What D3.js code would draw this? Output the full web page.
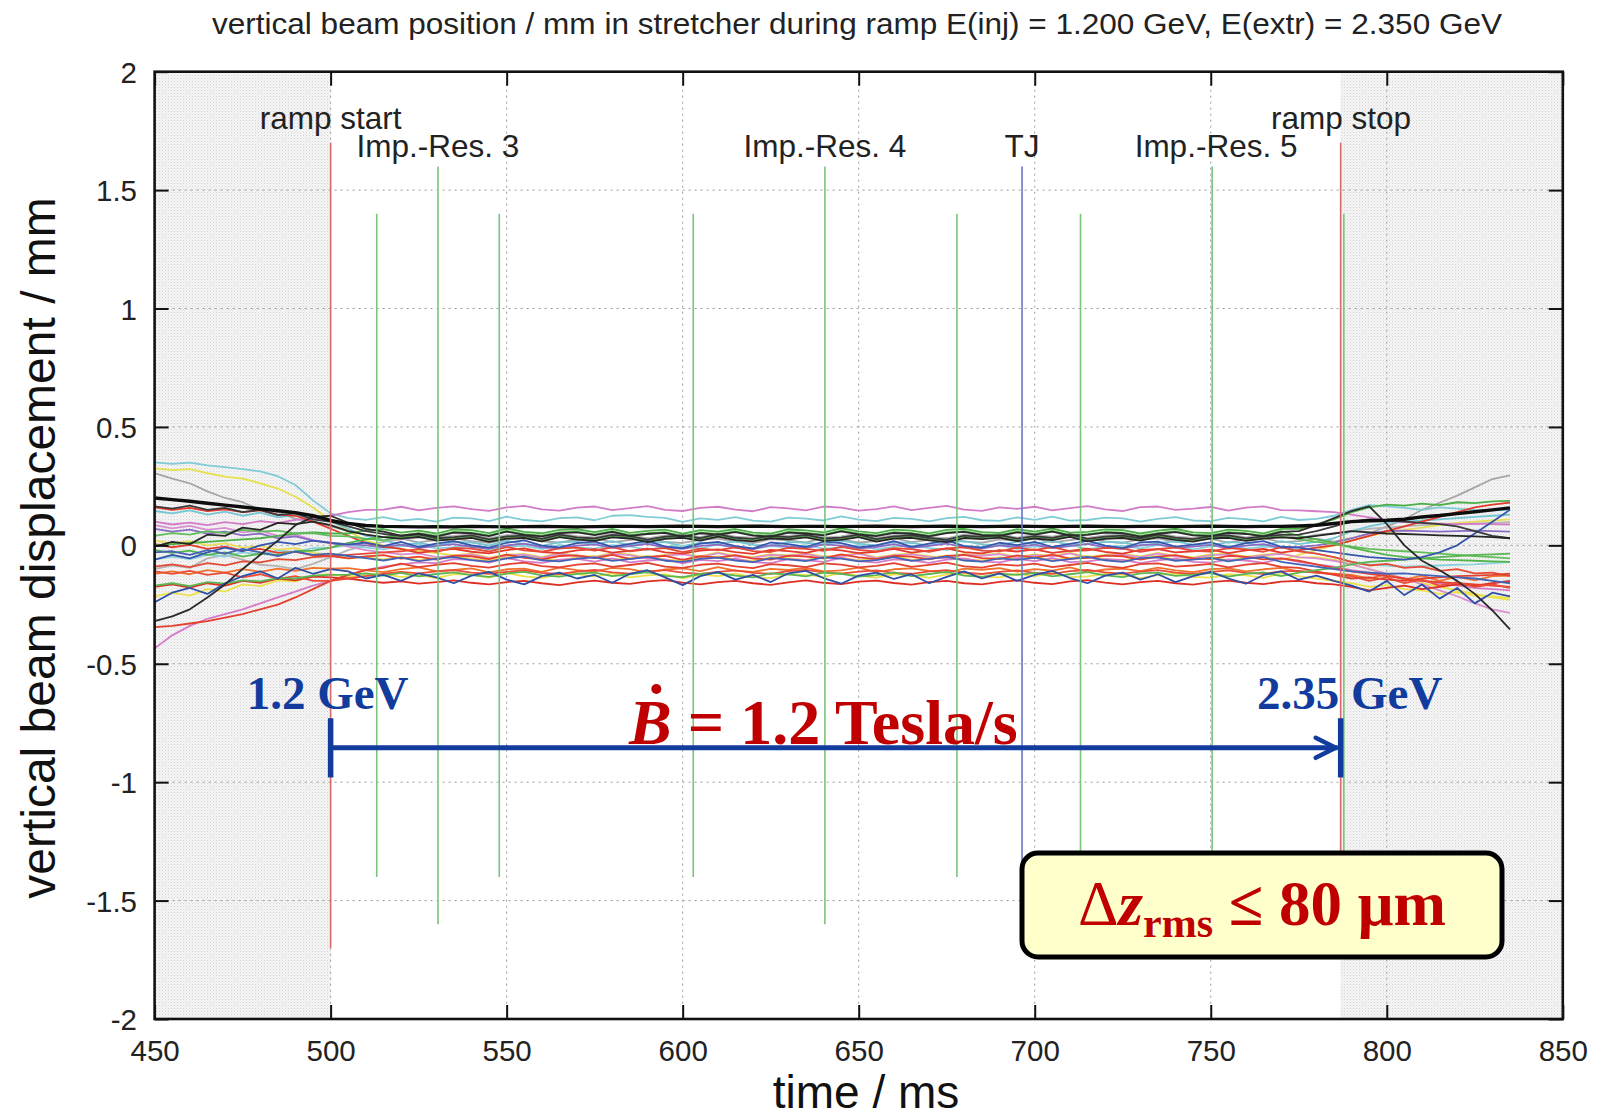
<!DOCTYPE html>
<html>
<head>
<meta charset="utf-8">
<script src="https://cdn.jsdelivr.net/npm/d3@7"></script>
<style>
  body { margin: 0; background: #fff; }
  svg { display: block; }
</style>
</head>
<body>
<svg id="chart" width="1601" height="1119"></svg>
<script>
// ---------------------------------------------------------------------------
// Sample times (ms) shared by all BPM traces
const timesMs = [450,455,460,465,470,475,480,485,490,495,500,
  505,510,515,520,525,530,535,540,545,550,555,560,565,570,575,580,585,590,595,600,
  605,610,615,620,625,630,635,640,645,650,655,660,665,670,675,680,685,690,695,700,
  705,710,715,720,725,730,735,740,745,750,755,760,765,770,775,780,785,
  790,795,800,805,810,815,820,825,830,835];

// Vertical beam displacement per monitor, in micrometres
const pinkTop = [100,88,96,85,98,90,102,95,108,112,125,
  140,150,151,163,148,158,165,153,146,160, 167,152,147,159,164,149,157,166,150,145, 158,163,151,144,161,156,148,164,159,147, 153,165,149,158,167,151,146,160,154,163, 148,157,166,152,145,161,164,150,155,162, 147,159,165,149,148,144,140,
  130,118,105,98,95,92,90,92,90,88];
const cyanA = [350,344,349,338,330,322,312,292,255,190,135,
  115,108,119,104,112,100,117,114,102,121, 107,101,115,118,106,125,128,120,116,99, 114,108,119,104,100,117,113,105,122,109, 102,116,112,101,115,120,106,103,118,108, 121,104,107,117,114,100,112,119,105,102, 116,111,101,120,107,112,125,
  150,170,165,158,150,160,155,150,148,150];
const yellowA = [325,318,322,305,290,282,262,240,205,160,105,
  60,20,0,-15,-25,-32, -42,-35,-52,-39, -36,-50,-32,-43,-48,-33,-38,-53,-40,-35, -47,-30,-45,-50,-37,-42,-33,-48,-44,-32, -51,-39,-35,-46,-53,-36,-41,-34,-49,-38, -45,-31,-50,-40,-36,-47,-32,-44,-51,-38, -35,-48,-39,-33,-52,-50,-60,
  -80,-100,-120,-140,-160,-175,-190,-205,-220,-230];
const grayA = [305,282,262,228,200,182,150,140,112,100,80,
  60,45,35,28, 13,23,30,18,11,25, 32,17,12,24,29,14,22,31,15,10, 23,28,16,9,26,21,13,29,24,12, 18,30,14,23,32,16,11,25,19,28, 13,22,31,17,10,26,29,15,20,27, 12,24,30,14,18,28,16,
  30,50,80,110,150,180,210,245,280,295];
const meanOrbit = [200,193,186,178,170,162,154,146,138,125,105,
  92,84,80,79,78,79,78,80,79,78, 79,80,79,78,79,80,80,79,80,81, 80,79,80,81,80,79,80,80,79,80, 81,80,79,80,81,80,79,80,81,80, 79,80,81,80,79,80,80,79,80,81, 80,79,80,80,82,85,92,
  100,104,106,110,120,126,134,142,150,158];
const blackRise = [-320,-300,-270,-220,-165,-100,-40,20,85,120,125,
  95,70,58, 41,49,37,54,51,39,58, 44,38,52,55,43,57,40,48,53,36, 51,45,56,41,37,54,50,42,59,46, 39,53,49,38,52,57,43,40,55,45, 58,41,44,54,51,37,49,56,42,39, 53,48,38,57,60,85,115,
  145,165,90,0,-65,-105,-150,-205,-275,-355];
const blackB = [165,155,168,150,158,140,150,128,135,110,100,
  80,60,48, 39,46,30,35,42,25,38, 41,27,45,34,29,44,39,24,37,42, 30,47,32,27,40,35,44,29,33,45, 26,38,42,31,24,41,36,43,28,39, 32,46,27,37,41,30,45,33,26,39, 42,29,38,44,45,60,80,
  100,110,105,100,95,90,80,60,40,30];
const redA = [160,150,158,145,152,140,148,130,125,100,70,
  40,10,-5,-15, -32,-22,-15,-27,-34,-20, -13,-28,-33,-21,-16,-31,-23,-14,-30,-35, -22,-17,-29,-36,-19,-24,-32,-16,-21,-33, -27,-15,-31,-22,-13,-29,-34,-20,-26,-17, -32,-23,-14,-28,-35,-19,-16,-30,-25,-18, -33,-21,-15,-31,-20,-10,0,
  20,40,60,80,100,120,140,160,172,180];
const cyanB = [145,135,148,130,142,125,138,118,128,110,100,
  70,40,22, 2,10,-2,15,12,0,19, 5,-1,13,16,4,18,1,9,14,-3, 12,6,17,2,-2,15,11,3,20,7, 0,14,10,-1,13,18,4,1,16,6, 19,2,5,15,12,-2,10,17,3,0, 14,9,-1,18,5,15,30,
  60,80,95,100,105,110,115,120,125,130];
const pinkB = [85,72,82,65,74,55,62,40,45,22,10,
  -5,-20,-30,-38, -34,-50,-45,-38,-55,-42, -39,-53,-35,-46,-51,-36,-41,-56,-43,-38, -50,-33,-48,-53,-40,-45,-36,-51,-47,-35, -54,-42,-38,-49,-56,-39,-44,-37,-52,-41, -48,-34,-53,-43,-39,-50,-35,-47,-54,-41, -38,-51,-42,-36,-50,-55,-65,
  -80,-100,-120,-140,-165,-190,-215,-245,-270,-285];
const purple = [70,58,66,50,58,42,50,30,38,20,10,
  5,0, -9,3,-12,-2,5,-7,-14,0, 7,-8,-13,-1,4,-11,-3,6,-10,-15, -2,3,-9,-16,1,-4,-12,4,-1,-13, -7,5,-11,-2,7,-9,-14,0,-6,3, -12,-3,6,-8,-15,1,4,-10,-5,2, -13,-1,5,-11,-7,0,10,
  30,50,60,62,60,58,60,62,60,58];
const greenA = [0,5,10,15,20,25,30,40,50,55,50,
  50, 63,69,54,62,50,67,64,52,71, 57,51,65,68,56,70,53,61,66,49, 64,58,69,54,50,67,63,55,72,59, 52,66,62,51,65,70,56,53,68,58, 71,54,57,67,64,50,62,69,55,52, 66,61,51,70,70,90,110,
  140,160,172,168,176,170,182,178,186,188];
const greenB = [40,52,45,60,52,65,58,62,50,52,40,
  38,28,21,34,41,25,30,37,20,33, 36,22,40,29,24,39,34,19,32,37, 25,42,27,22,35,30,39,24,28,40, 21,33,37,26,19,36,31,38,23,34, 27,41,22,32,36,25,40,28,21,34, 37,24,33,39,25,15,5,
  -5,-15,-20,-25,-30,-35,-40,-45,-50,-55];
const blueA = [-60,-40,-55,-30,-10,-25,0,15,5,20,10,
  3,12,-3,15,-7,7,18,0,-10,11, 21,-1,-9,9,16,-6,6,19,-5,-12, 7,15,-3,-13,12,5,-7,16,9,-9, 0,18,-6,7,21,-3,-10,11,1,15, -7,6,19,-1,-12,12,16,-5,3,13, -9,9,18,-6,-10,-20,-30,
  -40,-50,-55,-60,-50,-30,0,50,100,150];
const redB = [-90,-80,-92,-75,-85,-68,-72,-58,-62,-50,-45,
  -40,-35,-30,-25, -16,-28,-11,-14,-26,-7, -21,-27,-13,-10,-22,-8,-25,-17,-12,-29, -14,-20,-9,-24,-28,-11,-15,-23,-6,-19, -26,-12,-16,-27,-13,-8,-22,-25,-10,-20, -7,-24,-21,-11,-14,-28,-16,-9,-23,-26, -12,-17,-27,-8,-25,-35,-50,
  -70,-85,-78,-95,-90,-108,-100,-118,-115,-130];
const grayB = [-100,-85,-95,-55,-40,-60,-82,-88,-100,-78,-50,
  -20,0,15,25,32, 35,40,47,30,43, 46,32,50,39,34,49,44,29,42,47, 35,52,37,32,45,40,49,34,38,50, 31,43,47,36,29,46,41,48,33,44, 37,51,32,42,46,35,50,38,31,44, 47,34,43,49,30,45,50,
  60,70,75,80,85,88,90,92,95,98];
const greenC = [-170,-160,-172,-155,-162,-148,-152,-138,-140,-128,-125,
  -124,-118,-128,-116,-131,-121,-114,-126,-133,-119, -112,-127,-132,-120,-115,-130,-122,-113,-129,-134, -121,-116,-128,-135,-118,-123,-131,-115,-120,-132, -126,-114,-130,-121,-112,-128,-133,-119,-125,-116, -131,-122,-113,-127,-134,-118,-115,-129,-124,-117, -132,-120,-114,-130,-115,-105,-95,
  -80,-70,-65,-60,-55,-50,-45,-40,-38,-35];
const redC = [-175,-165,-178,-160,-170,-150,-158,-140,-148,-132,-135,
  -140,-150,-158,-152,-162,-155,-148,-158,-165,-155, -150,-160,-168,-156,-149,-158,-163,-152,-147,-157, -165,-155,-150,-160,-167,-156,-148,-158,-164,-153, -149,-159,-166,-155,-150,-160,-165,-154,-148,-158, -164,-152,-147,-157,-165,-155,-150,-160,-166,-155, -149,-158,-164,-153,-150,-160,-165,
  -175,-190,-180,-170,-185,-175,-165,-170,-160,-150];
const blueB = [-240,-200,-180,-205,-160,-130,-110,-140,-95,-120,-100,
  -110,-140,-125,-150,-118,-135,-160,-128,-112,-145, -165,-130,-115,-140,-125,-158,-120,-105,-135,-168, -130,-112,-145,-125,-155,-118,-108,-138,-162,-128, -115,-142,-122,-160,-133,-110,-140,-118,-150,-125, -108,-138,-160,-128,-115,-145,-122,-155,-130,-112, -140,-162,-125,-110,-145,-128,-150,
  -170,-195,-150,-210,-165,-225,-180,-245,-200,-215];
const yellowB = [-215,-200,-212,-185,-195,-165,-172,-148,-152,-128,-122,
  -133,-125,-119,-134,-126,-138,-121,-124,-136,-117, -131,-137,-123,-120,-132,-118,-135,-127,-122,-139, -124,-130,-119,-134,-138,-121,-125,-133,-116,-129, -136,-122,-126,-137,-123,-118,-132,-135,-120,-130, -117,-134,-131,-121,-124,-138,-126,-119,-133,-136, -122,-127,-137,-118,-130,-140,-150,
  -160,-175,-168,-185,-190,-205,-198,-212,-215,-222];
const blackC = [-5,15,5,45,40,75,65,95,90,100,85,
  60,45,35,28, 36,20,25,32,15,28, 31,17,35,24,19,34,29,14,27,32, 20,37,22,17,30,25,34,19,23,35, 16,28,32,21,14,31,26,33,18,29, 22,36,17,27,31,20,35,23,16,29, 32,19,28,34,30,40,50,
  60,55,50,48,45,42,40,38,35,30];
const redLow = [-345,-340,-330,-320,-305,-290,-270,-250,-220,-185,-150,
  -125,-105,-95, -77,-92,-82,-75,-87,-94,-80, -73,-88,-93,-81,-76,-91,-83,-74,-90,-95, -82,-77,-89,-96,-79,-84,-92,-76,-81,-93, -87,-75,-91,-82,-73,-89,-94,-80,-86,-77, -92,-83,-74,-88,-95,-79,-76,-90,-85,-78, -93,-81,-75,-91,-95,-110,-125,
  -140,-135,-145,-150,-140,-135,-130,-128,-125,-120];
const pinkLow = [-435,-380,-340,-310,-290,-270,-245,-220,-195,-170,-150,
  -125,-105,-90,-80,-72, -75,-58,-61,-73,-54, -68,-74,-60,-57,-69,-55,-72,-64,-59,-76, -61,-67,-56,-71,-75,-58,-62,-70,-53,-66, -73,-59,-63,-74,-60,-55,-69,-72,-57,-67, -54,-71,-68,-58,-61,-75,-63,-56,-70,-73, -59,-64,-74,-55,-70,-80,-90,
  -105,-115,-125,-140,-150,-160,-170,-180,-185,-190];
const orange = [-120,-110,-122,-105,-115,-100,-112,-98,-108,-95,-98,
  -96,-106,-113,-100,-93,-109,-104,-97,-114,-101, -98,-112,-94,-105,-110,-95,-100,-115,-102,-97, -109,-92,-107,-112,-99,-104,-95,-110,-106,-94, -113,-101,-97,-108,-115,-98,-103,-96,-111,-100, -107,-93,-112,-102,-98,-109,-94,-106,-113,-100, -97,-110,-101,-95,-110,-115,-120,
  -125,-140,-122,-145,-128,-150,-132,-148,-130,-128];
const yellowC = [20,8,18,0,8,-10,-2,-18,-12,-32,-40,
  -55,-49,-59,-47,-62,-52,-45,-57,-64,-50, -43,-58,-63,-51,-46,-61,-53,-44,-60,-65, -52,-47,-59,-66,-49,-54,-62,-46,-51,-63, -57,-45,-61,-52,-43,-59,-64,-50,-56,-47, -62,-53,-44,-58,-65,-49,-46,-60,-55,-48, -63,-51,-45,-61,-40,-20,0,
  20,40,55,65,75,85,95,100,105,110];
const redD = [5,-8,2,-15,-5,-22,-15,-32,-28,-42,-45,
  -55,-47,-41,-56,-48,-60,-43,-46,-58,-39, -53,-59,-45,-42,-54,-40,-57,-49,-44,-61, -46,-52,-41,-56,-60,-43,-47,-55,-38,-51, -58,-44,-48,-59,-45,-40,-54,-57,-42,-52, -39,-56,-53,-43,-46,-60,-48,-41,-55,-58, -44,-49,-59,-55,-65,-80,-95,
  -110,-120,-130,-140,-150,-155,-160,-165,-170,-175];
const cyanC = [-60,-48,-58,-40,-48,-30,-38,-22,-28,-12,-10,
  0,-10,-17,-4,3,-13,-8,-1,-18,-5, -2,-16,2,-9,-14,1,-4,-19,-6,-1, -13,4,-11,-16,-3,-8,1,-14,-10,2, -17,-5,-1,-12,-19,-2,-7,0,-15,-4, -11,3,-16,-6,-2,-13,2,-10,-17,-4, -1,-14,-5,-10,-20,-35,-50,
  -70,-80,-85,-90,-88,-85,-82,-80,-75,-70];
const blueC = [-30,-25,-40,-20,-35,-15,-30,-45,-25,-40,-35,
  -45,-54,-64,-52,-67,-57,-50,-62,-69,-55, -48,-63,-68,-56,-51,-66,-58,-49,-65,-70, -57,-52,-64,-71,-54,-59,-67,-51,-56,-68, -62,-50,-66,-57,-48,-64,-69,-55,-61,-52, -67,-58,-49,-63,-70,-54,-51,-65,-60,-53, -68,-56,-50,-70,-80,-90,-100,
  -110,-115,-120,-118,-125,-130,-135,-140,-150,-160];
const greenD = [-20,-32,-22,-40,-30,-48,-35,-40,-25,-22,-10,
  10,25,35,42, 52,40,57,54,42,61, 47,41,55,58,46,60,43,51,56,39, 54,48,59,44,40,57,53,45,62,49, 42,56,52,41,55,60,46,43,58,48, 61,44,47,57,54,40,52,59,45,42, 56,51,41,60,40,25,10,
  -10,-25,-40,-50,-55,-60,-62,-65,-68,-70];
const redE = [-110,-120,-108,-125,-115,-135,-122,-142,-130,-150,-150,
  -140,-130,-120,-112,-118,-110,-105,-115,-120,-112, -106,-116,-121,-111,-104,-114,-119,-110,-105,-115, -121,-112,-106,-116,-120,-109,-104,-114,-119,-111, -106,-116,-120,-110,-105,-115,-121,-112,-106,-116, -120,-109,-104,-114,-119,-111,-105,-115,-121,-112, -106,-116,-120,-110,-108,-115,-122,
  -130,-150,-135,-160,-145,-170,-155,-175,-165,-180];

// Monitor traces (drawing order) and their line colours
const traces = [grayA, grayB, yellowA, yellowB, yellowC, cyanA, cyanB, cyanC,
  pinkTop, pinkB, pinkLow, purple, orange, redA, redB, redC, redD, redE, redLow,
  greenA, greenB, greenC, greenD, blueA, blueB, blueC, blackB, blackC, blackRise];
const traceColors = ["#a6a6a6","#b4b4b4","#e6e04a","#ece24c","#e8de58","#7fcbd6","#74c6d3","#8ad1db",
  "#d27cc8","#d98ed2","#d57cc9","#8a6cc4","#f0722c","#e2392b","#e44a36","#de2e24","#e6402e","#ea4c36","#e3412f",
  "#4caf47","#62bd5a","#5ab552","#52b54a","#3756ad","#2f4fa6","#4263b6","#3a3a3a","#262626","#2b2b2b"];

// Event markers: time (ms), half length (mm), kind
const markerTimes = [500, 513.1, 530.5, 547.9, 603.0, 640.4, 677.9, 696.4, 713.0, 750.4, 786.9, 787.8];
const markerHalf  = [1.7, 1.4, 1.6, 1.4, 1.4, 1.6, 1.4, 1.6, 1.4, 1.6, 1.7, 1.4];
const markerKind  = ["ramp","res","res","res","res","res","res","tj","res","res","ramp","res"];
const markerColor = { ramp: "#d86a6a", res: "#7cc47c", tj: "#6676c4" };

// Marker captions: text, time, row
const captionText = ["ramp start", "Imp.-Res. 3", "Imp.-Res. 4", "TJ", "Imp.-Res. 5", "ramp stop"];
const captionTime = [500, 530.5, 640.4, 696.4, 751.5, 787];
const captionRow  = [0, 1, 1, 1, 1, 0];

// Shaded regions outside the ramp (ms)
const outsideRamp = [[450, 500], [786.9, 850]];

// Axis ticks
const xTickValues = [450, 500, 550, 600, 650, 700, 750, 800, 850];
const yTickValues = [-2, -1.5, -1, -0.5, 0, 0.5, 1, 1.5, 2];

// Ramp arrow: start/end (ms), level and bar extent (mm)
const rampArrow = { t0: 500, t1: 786.9, level: -0.855, barTop: -0.73, barBottom: -0.98 };

// ---------------------------------------------------------------------------
traces.forEach((s, i) => {
  if (s.length !== timesMs.length) throw new Error("trace " + i + " has " + s.length + " samples");
});
if (meanOrbit.length !== timesMs.length) throw new Error("mean orbit length");

const svg = d3.select("#chart");
const pL = 154.6, pR = 1562.8, pT = 71.7, pB = 1019;
const x = d3.scaleLinear().domain([450, 850]).range([pL, pR]);
const y = d3.scaleLinear().domain([-2, 2]).range([pB, pT]);

const sans = "'Liberation Sans', Arial, Helvetica, sans-serif";
const serif = "'Liberation Serif', 'Times New Roman', serif";

// dotted fill for the regions before / after the ramp
const defs = svg.append("defs");
const pat = defs.append("pattern").attr("id", "dots").attr("width", 3).attr("height", 3)
  .attr("patternUnits", "userSpaceOnUse");
pat.append("rect").attr("width", 3).attr("height", 3).attr("fill", "#f5f5f5");
pat.append("rect").attr("width", 1).attr("height", 1).attr("fill", "#d4d4d4");
pat.append("rect").attr("x", 1.5).attr("y", 1.5).attr("width", 1).attr("height", 1).attr("fill", "#e4e4e4");
defs.append("clipPath").attr("id", "plotClip").append("rect")
  .attr("x", pL).attr("y", pT).attr("width", pR - pL).attr("height", pB - pT);

svg.append("g").selectAll("rect").data(outsideRamp).join("rect")
  .attr("x", d => x(d[0])).attr("y", pT)
  .attr("width", d => x(d[1]) - x(d[0])).attr("height", pB - pT)
  .attr("fill", "url(#dots)");

// grid
const grid = svg.append("g").attr("stroke", "#9a9a9a").attr("stroke-width", 1)
  .attr("stroke-dasharray", "2,4");
grid.selectAll("line.gx").data(xTickValues.slice(1, -1)).join("line").attr("class", "gx")
  .attr("x1", d => x(d)).attr("x2", d => x(d)).attr("y1", pT).attr("y2", pB);
grid.selectAll("line.gy").data(yTickValues.slice(1, -1)).join("line").attr("class", "gy")
  .attr("y1", d => y(d)).attr("y2", d => y(d)).attr("x1", pL).attr("x2", pR);

// traces
const line = d3.line().x((d, i) => x(timesMs[i])).y(d => y(d / 1000));
const plot = svg.append("g").attr("clip-path", "url(#plotClip)");
plot.selectAll("path.trace").data(traces).join("path")
  .attr("class", "trace")
  .attr("d", d => line(d))
  .attr("fill", "none")
  .attr("stroke", (d, i) => traceColors[i])
  .attr("stroke-width", 1.8)
  .attr("stroke-linejoin", "round");
plot.append("path").attr("d", line(meanOrbit)).attr("fill", "none")
  .attr("stroke", "#0d0d0d").attr("stroke-width", 3.4).attr("stroke-linejoin", "round");

// event markers
svg.append("g").selectAll("line").data(markerTimes).join("line")
  .attr("x1", d => x(d)).attr("x2", d => x(d))
  .attr("y1", (d, i) => y(markerHalf[i])).attr("y2", (d, i) => y(-markerHalf[i]))
  .attr("stroke", (d, i) => markerColor[markerKind[i]])
  .attr("stroke-width", 1.6);

// captions
svg.append("g").selectAll("text").data(captionText).join("text")
  .attr("x", (d, i) => x(captionTime[i]))
  .attr("y", (d, i) => captionRow[i] === 0 ? 129 : 157)
  .attr("text-anchor", "middle")
  .attr("font-family", sans).attr("font-size", 31.5).attr("fill", "#222")
  .text(d => d);

// axes with inward ticks on all four sides
const tick = 14;
const axB = svg.append("g").attr("transform", `translate(0,${pB})`)
  .call(d3.axisBottom(x).tickValues(xTickValues).tickSizeInner(-tick).tickSizeOuter(0).tickPadding(19));
const axT = svg.append("g").attr("transform", `translate(0,${pT})`)
  .call(d3.axisTop(x).tickValues(xTickValues).tickSizeInner(-tick).tickSizeOuter(0).tickFormat(""));
const axL = svg.append("g").attr("transform", `translate(${pL},0)`)
  .call(d3.axisLeft(y).tickValues(yTickValues).tickSizeInner(-tick).tickSizeOuter(0).tickPadding(19)
    .tickFormat(d => String(d)));
const axR = svg.append("g").attr("transform", `translate(${pR},0)`)
  .call(d3.axisRight(y).tickValues(yTickValues).tickSizeInner(-tick).tickSizeOuter(0).tickFormat(""));
[axB, axT, axL, axR].forEach(g => {
  g.select(".domain").remove();
  g.selectAll(".tick line").attr("stroke", "#111").attr("stroke-width", 2);
  g.selectAll(".tick text").attr("font-family", sans).attr("font-size", 29.5).attr("fill", "#222");
});
axL.selectAll(".tick text").attr("x", -(pL - 137)).attr("dy", "0.36em");
axB.selectAll(".tick text").attr("y", 42).attr("dy", 0);

// frame
svg.append("rect").attr("x", pL).attr("y", pT)
  .attr("width", pR - pL).attr("height", pB - pT)
  .attr("fill", "none").attr("stroke", "#111").attr("stroke-width", 2.6);

// titles
svg.append("text").attr("x", 857).attr("y", 34).attr("text-anchor", "middle")
  .attr("font-family", sans).attr("font-size", 29).attr("fill", "#222")
  .attr("textLength", 1290).attr("lengthAdjust", "spacingAndGlyphs")
  .text("vertical beam position / mm in stretcher during ramp E(inj) = 1.200 GeV, E(extr) = 2.350 GeV");
svg.append("text").attr("x", 866).attr("y", 1108).attr("text-anchor", "middle")
  .attr("font-family", sans).attr("font-size", 46).attr("fill", "#111")
  .text("time / ms");
svg.append("text").attr("transform", "translate(55,548) rotate(-90)").attr("text-anchor", "middle")
  .attr("font-family", sans).attr("font-size", 48).attr("fill", "#111")
  .text("vertical beam displacement / mm");

// ramp arrow
const blue = "#113c9e";
const ag = svg.append("g").attr("stroke", blue).attr("fill", "none");
ag.append("line").attr("x1", x(rampArrow.t0)).attr("x2", x(rampArrow.t1) - 3)
  .attr("y1", y(rampArrow.level)).attr("y2", y(rampArrow.level)).attr("stroke-width", 5);
[rampArrow.t0, rampArrow.t1].forEach(t => {
  ag.append("line").attr("x1", x(t)).attr("x2", x(t))
    .attr("y1", y(rampArrow.barTop)).attr("y2", y(rampArrow.barBottom)).attr("stroke-width", 5.5);
});
const tipX = x(rampArrow.t1) - 5, tipY = y(rampArrow.level);
ag.append("path").attr("d", `M${tipX - 20},${tipY - 10} L${tipX},${tipY} L${tipX - 20},${tipY + 10}`)
  .attr("stroke-width", 4.5).attr("stroke-linejoin", "miter").attr("stroke-linecap", "round");

svg.append("text").attr("x", x(rampArrow.t0) - 3).attr("y", 709).attr("text-anchor", "middle")
  .attr("font-family", serif).attr("font-weight", "bold").attr("font-size", 47).attr("fill", blue)
  .text("1.2 GeV");
svg.append("text").attr("x", x(rampArrow.t1) + 9).attr("y", 709).attr("text-anchor", "middle")
  .attr("font-family", serif).attr("font-weight", "bold").attr("font-size", 47).attr("fill", blue)
  .text("2.35 GeV");

// field ramp rate
const red = "#c00000";
const bdot = svg.append("text").attr("x", 629).attr("y", 744)
  .attr("font-family", serif).attr("font-weight", "bold").attr("font-size", 64).attr("fill", red);
bdot.append("tspan").attr("font-style", "italic").text("B");
bdot.append("tspan").text(" = 1.2 Tesla/s");
const b0 = bdot.node().getStartPositionOfChar(0), b1 = bdot.node().getEndPositionOfChar(0);
svg.append("circle").attr("cx", (b0.x + b1.x) / 2 + 6).attr("cy", 744 - 55).attr("r", 5).attr("fill", red);

// rms box
svg.append("rect").attr("x", 1022).attr("y", 853).attr("width", 480).attr("height", 104)
  .attr("rx", 16).attr("fill", "#ffffcc").attr("stroke", "#000").attr("stroke-width", 5);
const rms = svg.append("text").attr("x", 1262).attr("y", 925).attr("text-anchor", "middle")
  .attr("font-family", serif).attr("font-weight", "bold").attr("font-size", 63).attr("fill", red);
rms.append("tspan").attr("font-weight", "normal").text("Δ");
rms.append("tspan").attr("font-style", "italic").text("z");
rms.append("tspan").attr("font-size", 42).attr("dy", 12).text("rms");
rms.append("tspan").attr("dy", -12).text(" ≤ 80 μm");
</script>
</body>
</html>
